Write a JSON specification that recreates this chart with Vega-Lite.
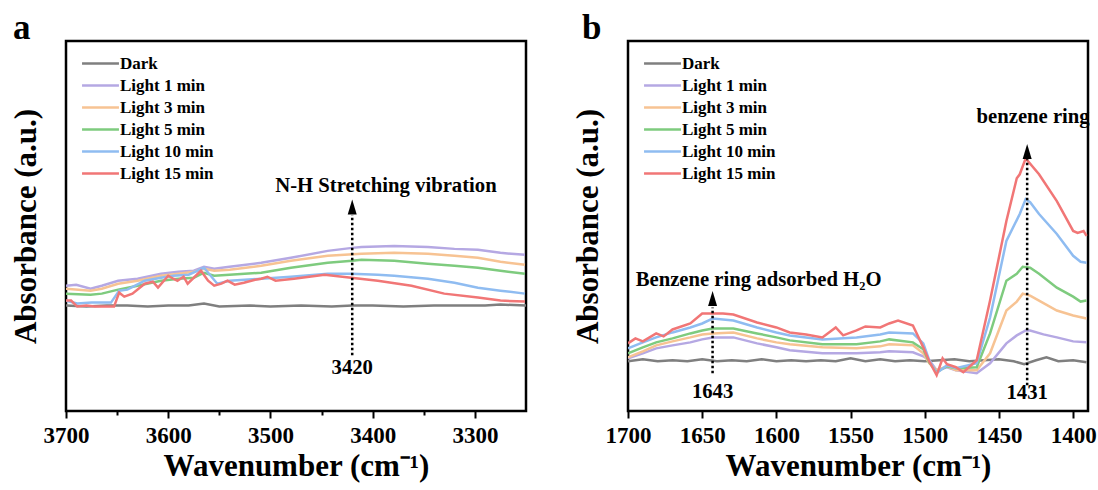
{
  "$schema": "https://vega.github.io/schema/vega-lite/v6.json",
  "padding": {"left": 8, "top": 9, "right": 5, "bottom": 3},
  "background": "white",
  "config": {
    "font": "Liberation Serif",
    "view": {"stroke": "black", "strokeWidth": 2.5},
    "axis": {"grid": false, "domain": false, "labelFont": "Liberation Serif", "titleFont": "Liberation Serif", "labelFontWeight": "bold", "titleFontWeight": "bold", "labelColor": "black", "titleColor": "black", "tickColor": "black"},
    "axisX": {"labelFontSize": 23, "titleFontSize": 31, "tickWidth": 2, "labelPadding": 6, "titlePadding": 4, "labelFlush": false, "labelOverlap": false},
    "axisY": {"labels": false, "ticks": false, "titleFontSize": 31, "titlePadding": 24},
    "legend": {"orient": "none", "legendX": 21, "legendY": 9, "padding": 0, "title": null, "labelFont": "Liberation Serif", "labelFontWeight": "bold", "labelFontSize": 17, "labelColor": "black", "symbolType": "M-1.55,0L1.55,0", "symbolSize": 567, "symbolStrokeWidth": 2.5, "rowPadding": 0, "labelOffset": 6},
    "title": {"font": "Liberation Serif", "fontWeight": "bold", "fontSize": 35, "color": "black", "anchor": "start", "frame": "bounds", "offset": -5}
  },
  "datasets": {
    "pa": [
      {"s": "Dark", "w": 3700, "a": 106}, {"s": "Dark", "w": 3680, "a": 105}, {"s": "Dark", "w": 3660, "a": 106}, {"s": "Dark", "w": 3640, "a": 106}, {"s": "Dark", "w": 3620, "a": 105}, {"s": "Dark", "w": 3600, "a": 106}, {"s": "Dark", "w": 3580, "a": 106}, {"s": "Dark", "w": 3565, "a": 108}, {"s": "Dark", "w": 3550, "a": 105}, {"s": "Dark", "w": 3520, "a": 106}, {"s": "Dark", "w": 3500, "a": 105}, {"s": "Dark", "w": 3470, "a": 106}, {"s": "Dark", "w": 3440, "a": 105}, {"s": "Dark", "w": 3420, "a": 106}, {"s": "Dark", "w": 3400, "a": 106}, {"s": "Dark", "w": 3370, "a": 105}, {"s": "Dark", "w": 3340, "a": 106}, {"s": "Dark", "w": 3310, "a": 106}, {"s": "Dark", "w": 3290, "a": 106}, {"s": "Dark", "w": 3275, "a": 107}, {"s": "Dark", "w": 3250, "a": 106},
      {"s": "Light 1 min", "w": 3700, "a": 126}, {"s": "Light 1 min", "w": 3690, "a": 127}, {"s": "Light 1 min", "w": 3676, "a": 123}, {"s": "Light 1 min", "w": 3665, "a": 126}, {"s": "Light 1 min", "w": 3649, "a": 131}, {"s": "Light 1 min", "w": 3630, "a": 133}, {"s": "Light 1 min", "w": 3607, "a": 138}, {"s": "Light 1 min", "w": 3590, "a": 140}, {"s": "Light 1 min", "w": 3575, "a": 141}, {"s": "Light 1 min", "w": 3565, "a": 145}, {"s": "Light 1 min", "w": 3555, "a": 143}, {"s": "Light 1 min", "w": 3540, "a": 145}, {"s": "Light 1 min", "w": 3509, "a": 149}, {"s": "Light 1 min", "w": 3480, "a": 154}, {"s": "Light 1 min", "w": 3444, "a": 161}, {"s": "Light 1 min", "w": 3420, "a": 164}, {"s": "Light 1 min", "w": 3411, "a": 165}, {"s": "Light 1 min", "w": 3379, "a": 166}, {"s": "Light 1 min", "w": 3346, "a": 165}, {"s": "Light 1 min", "w": 3320, "a": 163}, {"s": "Light 1 min", "w": 3297, "a": 162}, {"s": "Light 1 min", "w": 3275, "a": 159}, {"s": "Light 1 min", "w": 3251, "a": 157},
      {"s": "Light 3 min", "w": 3700, "a": 123}, {"s": "Light 3 min", "w": 3676, "a": 121}, {"s": "Light 3 min", "w": 3665, "a": 123}, {"s": "Light 3 min", "w": 3649, "a": 128}, {"s": "Light 3 min", "w": 3630, "a": 131}, {"s": "Light 3 min", "w": 3607, "a": 136}, {"s": "Light 3 min", "w": 3590, "a": 138}, {"s": "Light 3 min", "w": 3575, "a": 140}, {"s": "Light 3 min", "w": 3565, "a": 143}, {"s": "Light 3 min", "w": 3555, "a": 141}, {"s": "Light 3 min", "w": 3540, "a": 142}, {"s": "Light 3 min", "w": 3509, "a": 146}, {"s": "Light 3 min", "w": 3480, "a": 151}, {"s": "Light 3 min", "w": 3444, "a": 156}, {"s": "Light 3 min", "w": 3411, "a": 158}, {"s": "Light 3 min", "w": 3379, "a": 159}, {"s": "Light 3 min", "w": 3346, "a": 158}, {"s": "Light 3 min", "w": 3320, "a": 156}, {"s": "Light 3 min", "w": 3297, "a": 154}, {"s": "Light 3 min", "w": 3275, "a": 150}, {"s": "Light 3 min", "w": 3251, "a": 147},
      {"s": "Light 5 min", "w": 3700, "a": 118}, {"s": "Light 5 min", "w": 3676, "a": 117}, {"s": "Light 5 min", "w": 3665, "a": 118}, {"s": "Light 5 min", "w": 3649, "a": 122}, {"s": "Light 5 min", "w": 3630, "a": 126}, {"s": "Light 5 min", "w": 3607, "a": 131}, {"s": "Light 5 min", "w": 3590, "a": 133}, {"s": "Light 5 min", "w": 3575, "a": 134}, {"s": "Light 5 min", "w": 3565, "a": 139}, {"s": "Light 5 min", "w": 3555, "a": 136}, {"s": "Light 5 min", "w": 3540, "a": 137}, {"s": "Light 5 min", "w": 3509, "a": 139}, {"s": "Light 5 min", "w": 3480, "a": 144}, {"s": "Light 5 min", "w": 3444, "a": 149}, {"s": "Light 5 min", "w": 3420, "a": 151}, {"s": "Light 5 min", "w": 3411, "a": 152}, {"s": "Light 5 min", "w": 3379, "a": 151}, {"s": "Light 5 min", "w": 3346, "a": 148}, {"s": "Light 5 min", "w": 3320, "a": 146}, {"s": "Light 5 min", "w": 3297, "a": 144}, {"s": "Light 5 min", "w": 3275, "a": 141}, {"s": "Light 5 min", "w": 3251, "a": 138},
      {"s": "Light 10 min", "w": 3700, "a": 111}, {"s": "Light 10 min", "w": 3689, "a": 108}, {"s": "Light 10 min", "w": 3675, "a": 109}, {"s": "Light 10 min", "w": 3656, "a": 109}, {"s": "Light 10 min", "w": 3648, "a": 121}, {"s": "Light 10 min", "w": 3640, "a": 122}, {"s": "Light 10 min", "w": 3623, "a": 131}, {"s": "Light 10 min", "w": 3607, "a": 134}, {"s": "Light 10 min", "w": 3595, "a": 136}, {"s": "Light 10 min", "w": 3580, "a": 137}, {"s": "Light 10 min", "w": 3565, "a": 144}, {"s": "Light 10 min", "w": 3552, "a": 128}, {"s": "Light 10 min", "w": 3540, "a": 131}, {"s": "Light 10 min", "w": 3525, "a": 132}, {"s": "Light 10 min", "w": 3509, "a": 133}, {"s": "Light 10 min", "w": 3480, "a": 135}, {"s": "Light 10 min", "w": 3444, "a": 138}, {"s": "Light 10 min", "w": 3421, "a": 138}, {"s": "Light 10 min", "w": 3395, "a": 137}, {"s": "Light 10 min", "w": 3379, "a": 136}, {"s": "Light 10 min", "w": 3346, "a": 133}, {"s": "Light 10 min", "w": 3320, "a": 129}, {"s": "Light 10 min", "w": 3297, "a": 124}, {"s": "Light 10 min", "w": 3275, "a": 121}, {"s": "Light 10 min", "w": 3251, "a": 118},
      {"s": "Light 15 min", "w": 3700, "a": 111}, {"s": "Light 15 min", "w": 3695, "a": 111}, {"s": "Light 15 min", "w": 3689, "a": 105}, {"s": "Light 15 min", "w": 3680, "a": 106}, {"s": "Light 15 min", "w": 3672, "a": 105}, {"s": "Light 15 min", "w": 3660, "a": 105}, {"s": "Light 15 min", "w": 3653, "a": 105}, {"s": "Light 15 min", "w": 3648, "a": 119}, {"s": "Light 15 min", "w": 3643, "a": 115}, {"s": "Light 15 min", "w": 3635, "a": 118}, {"s": "Light 15 min", "w": 3623, "a": 128}, {"s": "Light 15 min", "w": 3615, "a": 130}, {"s": "Light 15 min", "w": 3610, "a": 124}, {"s": "Light 15 min", "w": 3600, "a": 136}, {"s": "Light 15 min", "w": 3595, "a": 133}, {"s": "Light 15 min", "w": 3591, "a": 131}, {"s": "Light 15 min", "w": 3585, "a": 135}, {"s": "Light 15 min", "w": 3581, "a": 128}, {"s": "Light 15 min", "w": 3568, "a": 141}, {"s": "Light 15 min", "w": 3561, "a": 131}, {"s": "Light 15 min", "w": 3555, "a": 126}, {"s": "Light 15 min", "w": 3548, "a": 128}, {"s": "Light 15 min", "w": 3542, "a": 131}, {"s": "Light 15 min", "w": 3535, "a": 127}, {"s": "Light 15 min", "w": 3526, "a": 129}, {"s": "Light 15 min", "w": 3515, "a": 132}, {"s": "Light 15 min", "w": 3509, "a": 133}, {"s": "Light 15 min", "w": 3503, "a": 135}, {"s": "Light 15 min", "w": 3495, "a": 131}, {"s": "Light 15 min", "w": 3477, "a": 133}, {"s": "Light 15 min", "w": 3447, "a": 137}, {"s": "Light 15 min", "w": 3421, "a": 134}, {"s": "Light 15 min", "w": 3395, "a": 131}, {"s": "Light 15 min", "w": 3362, "a": 126}, {"s": "Light 15 min", "w": 3330, "a": 118}, {"s": "Light 15 min", "w": 3297, "a": 114}, {"s": "Light 15 min", "w": 3275, "a": 111}, {"s": "Light 15 min", "w": 3251, "a": 110}
    ],
    "pb": [
      {"s": "Dark", "w": 1700, "a": 50}, {"s": "Dark", "w": 1690, "a": 52}, {"s": "Dark", "w": 1680, "a": 50}, {"s": "Dark", "w": 1670, "a": 51}, {"s": "Dark", "w": 1660, "a": 50}, {"s": "Dark", "w": 1650, "a": 52}, {"s": "Dark", "w": 1640, "a": 50}, {"s": "Dark", "w": 1630, "a": 51}, {"s": "Dark", "w": 1620, "a": 50}, {"s": "Dark", "w": 1610, "a": 52}, {"s": "Dark", "w": 1600, "a": 50}, {"s": "Dark", "w": 1590, "a": 51}, {"s": "Dark", "w": 1580, "a": 50}, {"s": "Dark", "w": 1570, "a": 51}, {"s": "Dark", "w": 1560, "a": 50}, {"s": "Dark", "w": 1550, "a": 53}, {"s": "Dark", "w": 1540, "a": 50}, {"s": "Dark", "w": 1530, "a": 52}, {"s": "Dark", "w": 1520, "a": 50}, {"s": "Dark", "w": 1510, "a": 51}, {"s": "Dark", "w": 1500, "a": 50}, {"s": "Dark", "w": 1490, "a": 51}, {"s": "Dark", "w": 1480, "a": 52}, {"s": "Dark", "w": 1470, "a": 50}, {"s": "Dark", "w": 1460, "a": 51}, {"s": "Dark", "w": 1450, "a": 52}, {"s": "Dark", "w": 1440, "a": 50}, {"s": "Dark", "w": 1433, "a": 47}, {"s": "Dark", "w": 1425, "a": 51}, {"s": "Dark", "w": 1418, "a": 54}, {"s": "Dark", "w": 1410, "a": 50}, {"s": "Dark", "w": 1400, "a": 51}, {"s": "Dark", "w": 1391, "a": 49},
      {"s": "Light 1 min", "w": 1700, "a": 53}, {"s": "Light 1 min", "w": 1690, "a": 58}, {"s": "Light 1 min", "w": 1681, "a": 63}, {"s": "Light 1 min", "w": 1670, "a": 66}, {"s": "Light 1 min", "w": 1658, "a": 69}, {"s": "Light 1 min", "w": 1650, "a": 72}, {"s": "Light 1 min", "w": 1643, "a": 74}, {"s": "Light 1 min", "w": 1629, "a": 74}, {"s": "Light 1 min", "w": 1613, "a": 68}, {"s": "Light 1 min", "w": 1600, "a": 64}, {"s": "Light 1 min", "w": 1591, "a": 61}, {"s": "Light 1 min", "w": 1569, "a": 58}, {"s": "Light 1 min", "w": 1546, "a": 58}, {"s": "Light 1 min", "w": 1530, "a": 59}, {"s": "Light 1 min", "w": 1524, "a": 60}, {"s": "Light 1 min", "w": 1508, "a": 59}, {"s": "Light 1 min", "w": 1501, "a": 55}, {"s": "Light 1 min", "w": 1497, "a": 51}, {"s": "Light 1 min", "w": 1492, "a": 41}, {"s": "Light 1 min", "w": 1485, "a": 44}, {"s": "Light 1 min", "w": 1479, "a": 41}, {"s": "Light 1 min", "w": 1465, "a": 38}, {"s": "Light 1 min", "w": 1456, "a": 48}, {"s": "Light 1 min", "w": 1445, "a": 68}, {"s": "Light 1 min", "w": 1438, "a": 76}, {"s": "Light 1 min", "w": 1432, "a": 81}, {"s": "Light 1 min", "w": 1429, "a": 81}, {"s": "Light 1 min", "w": 1420, "a": 77}, {"s": "Light 1 min", "w": 1411, "a": 74}, {"s": "Light 1 min", "w": 1400, "a": 70}, {"s": "Light 1 min", "w": 1391, "a": 69},
      {"s": "Light 3 min", "w": 1700, "a": 54}, {"s": "Light 3 min", "w": 1690, "a": 60}, {"s": "Light 3 min", "w": 1681, "a": 66}, {"s": "Light 3 min", "w": 1670, "a": 70}, {"s": "Light 3 min", "w": 1658, "a": 74}, {"s": "Light 3 min", "w": 1650, "a": 77}, {"s": "Light 3 min", "w": 1643, "a": 78}, {"s": "Light 3 min", "w": 1629, "a": 79}, {"s": "Light 3 min", "w": 1613, "a": 73}, {"s": "Light 3 min", "w": 1600, "a": 69}, {"s": "Light 3 min", "w": 1591, "a": 67}, {"s": "Light 3 min", "w": 1569, "a": 64}, {"s": "Light 3 min", "w": 1546, "a": 63}, {"s": "Light 3 min", "w": 1530, "a": 65}, {"s": "Light 3 min", "w": 1524, "a": 67}, {"s": "Light 3 min", "w": 1508, "a": 66}, {"s": "Light 3 min", "w": 1501, "a": 58}, {"s": "Light 3 min", "w": 1497, "a": 48}, {"s": "Light 3 min", "w": 1492, "a": 41}, {"s": "Light 3 min", "w": 1485, "a": 45}, {"s": "Light 3 min", "w": 1479, "a": 41}, {"s": "Light 3 min", "w": 1465, "a": 41}, {"s": "Light 3 min", "w": 1456, "a": 58}, {"s": "Light 3 min", "w": 1445, "a": 101}, {"s": "Light 3 min", "w": 1438, "a": 110}, {"s": "Light 3 min", "w": 1434, "a": 118}, {"s": "Light 3 min", "w": 1429, "a": 116}, {"s": "Light 3 min", "w": 1423, "a": 111}, {"s": "Light 3 min", "w": 1411, "a": 101}, {"s": "Light 3 min", "w": 1400, "a": 96}, {"s": "Light 3 min", "w": 1391, "a": 93},
      {"s": "Light 5 min", "w": 1700, "a": 58}, {"s": "Light 5 min", "w": 1690, "a": 64}, {"s": "Light 5 min", "w": 1681, "a": 69}, {"s": "Light 5 min", "w": 1670, "a": 73}, {"s": "Light 5 min", "w": 1658, "a": 78}, {"s": "Light 5 min", "w": 1650, "a": 81}, {"s": "Light 5 min", "w": 1643, "a": 83}, {"s": "Light 5 min", "w": 1629, "a": 83}, {"s": "Light 5 min", "w": 1613, "a": 78}, {"s": "Light 5 min", "w": 1600, "a": 74}, {"s": "Light 5 min", "w": 1591, "a": 71}, {"s": "Light 5 min", "w": 1569, "a": 67}, {"s": "Light 5 min", "w": 1546, "a": 67}, {"s": "Light 5 min", "w": 1530, "a": 70}, {"s": "Light 5 min", "w": 1524, "a": 72}, {"s": "Light 5 min", "w": 1508, "a": 69}, {"s": "Light 5 min", "w": 1501, "a": 62}, {"s": "Light 5 min", "w": 1497, "a": 49}, {"s": "Light 5 min", "w": 1492, "a": 39}, {"s": "Light 5 min", "w": 1485, "a": 45}, {"s": "Light 5 min", "w": 1479, "a": 43}, {"s": "Light 5 min", "w": 1465, "a": 44}, {"s": "Light 5 min", "w": 1456, "a": 78}, {"s": "Light 5 min", "w": 1445, "a": 131}, {"s": "Light 5 min", "w": 1438, "a": 138}, {"s": "Light 5 min", "w": 1434, "a": 145}, {"s": "Light 5 min", "w": 1429, "a": 144}, {"s": "Light 5 min", "w": 1423, "a": 138}, {"s": "Light 5 min", "w": 1411, "a": 124}, {"s": "Light 5 min", "w": 1400, "a": 115}, {"s": "Light 5 min", "w": 1395, "a": 110}, {"s": "Light 5 min", "w": 1391, "a": 111},
      {"s": "Light 10 min", "w": 1700, "a": 63}, {"s": "Light 10 min", "w": 1690, "a": 69}, {"s": "Light 10 min", "w": 1681, "a": 74}, {"s": "Light 10 min", "w": 1670, "a": 79}, {"s": "Light 10 min", "w": 1658, "a": 84}, {"s": "Light 10 min", "w": 1650, "a": 88}, {"s": "Light 10 min", "w": 1643, "a": 93}, {"s": "Light 10 min", "w": 1629, "a": 91}, {"s": "Light 10 min", "w": 1613, "a": 84}, {"s": "Light 10 min", "w": 1600, "a": 79}, {"s": "Light 10 min", "w": 1591, "a": 76}, {"s": "Light 10 min", "w": 1569, "a": 72}, {"s": "Light 10 min", "w": 1546, "a": 74}, {"s": "Light 10 min", "w": 1530, "a": 77}, {"s": "Light 10 min", "w": 1524, "a": 79}, {"s": "Light 10 min", "w": 1508, "a": 78}, {"s": "Light 10 min", "w": 1501, "a": 68}, {"s": "Light 10 min", "w": 1497, "a": 51}, {"s": "Light 10 min", "w": 1492, "a": 38}, {"s": "Light 10 min", "w": 1485, "a": 46}, {"s": "Light 10 min", "w": 1479, "a": 43}, {"s": "Light 10 min", "w": 1465, "a": 48}, {"s": "Light 10 min", "w": 1456, "a": 94}, {"s": "Light 10 min", "w": 1445, "a": 171}, {"s": "Light 10 min", "w": 1436, "a": 198}, {"s": "Light 10 min", "w": 1432, "a": 213}, {"s": "Light 10 min", "w": 1429, "a": 210}, {"s": "Light 10 min", "w": 1423, "a": 198}, {"s": "Light 10 min", "w": 1411, "a": 178}, {"s": "Light 10 min", "w": 1400, "a": 156}, {"s": "Light 10 min", "w": 1395, "a": 150}, {"s": "Light 10 min", "w": 1391, "a": 149},
      {"s": "Light 15 min", "w": 1700, "a": 68}, {"s": "Light 15 min", "w": 1695, "a": 73}, {"s": "Light 15 min", "w": 1690, "a": 70}, {"s": "Light 15 min", "w": 1681, "a": 78}, {"s": "Light 15 min", "w": 1676, "a": 75}, {"s": "Light 15 min", "w": 1670, "a": 82}, {"s": "Light 15 min", "w": 1658, "a": 88}, {"s": "Light 15 min", "w": 1650, "a": 98}, {"s": "Light 15 min", "w": 1643, "a": 98}, {"s": "Light 15 min", "w": 1636, "a": 98}, {"s": "Light 15 min", "w": 1629, "a": 97}, {"s": "Light 15 min", "w": 1613, "a": 89}, {"s": "Light 15 min", "w": 1600, "a": 84}, {"s": "Light 15 min", "w": 1591, "a": 79}, {"s": "Light 15 min", "w": 1580, "a": 77}, {"s": "Light 15 min", "w": 1569, "a": 74}, {"s": "Light 15 min", "w": 1560, "a": 84}, {"s": "Light 15 min", "w": 1555, "a": 76}, {"s": "Light 15 min", "w": 1546, "a": 81}, {"s": "Light 15 min", "w": 1540, "a": 85}, {"s": "Light 15 min", "w": 1530, "a": 84}, {"s": "Light 15 min", "w": 1524, "a": 88}, {"s": "Light 15 min", "w": 1518, "a": 91}, {"s": "Light 15 min", "w": 1508, "a": 86}, {"s": "Light 15 min", "w": 1501, "a": 64}, {"s": "Light 15 min", "w": 1497, "a": 50}, {"s": "Light 15 min", "w": 1492, "a": 36}, {"s": "Light 15 min", "w": 1488, "a": 53}, {"s": "Light 15 min", "w": 1485, "a": 47}, {"s": "Light 15 min", "w": 1479, "a": 44}, {"s": "Light 15 min", "w": 1474, "a": 39}, {"s": "Light 15 min", "w": 1465, "a": 51}, {"s": "Light 15 min", "w": 1456, "a": 111}, {"s": "Light 15 min", "w": 1445, "a": 191}, {"s": "Light 15 min", "w": 1438, "a": 234}, {"s": "Light 15 min", "w": 1436, "a": 238}, {"s": "Light 15 min", "w": 1432, "a": 254}, {"s": "Light 15 min", "w": 1423, "a": 238}, {"s": "Light 15 min", "w": 1411, "a": 211}, {"s": "Light 15 min", "w": 1400, "a": 181}, {"s": "Light 15 min", "w": 1397, "a": 179}, {"s": "Light 15 min", "w": 1393, "a": 181}, {"s": "Light 15 min", "w": 1391, "a": 176}
    ]
  },
  "hconcat": [
    {
      "width": 460, "height": 370,
      "title": {"text": "a", "dx": 3},
      "layer": [
        {
          "data": {"name": "pa"},
          "mark": {"type": "line", "strokeWidth": 2.5, "clip": true},
          "encoding": {
            "x": {"field": "w", "type": "quantitative", "title": "Wavenumber (cm⁻¹)", "scale": {"domain": [3250, 3700], "reverse": true, "nice": false, "zero": false},
                  "axis": {"values": [3700, 3650, 3600, 3550, 3500, 3450, 3400, 3350, 3300], "labelExpr": "datum.value % 100 == 0 ? datum.label : ''", "format": "d", "tickSize": {"condition": {"test": "datum.value % 100 == 0", "value": 7}, "value": 4}}},
            "y": {"field": "a", "type": "quantitative", "title": "Absorbance (a.u.)", "scale": {"domain": [0, 372], "nice": false, "zero": false}},
            "color": {"field": "s", "type": "nominal", "sort": null,
                      "scale": {"domain": ["Dark", "Light 1 min", "Light 3 min", "Light 5 min", "Light 10 min", "Light 15 min"], "range": ["#7f7f7f", "#b5a8e3", "#f7c393", "#7ecb7e", "#8fbcf1", "#f17676"]}}
          }
        },
        {
          "data": {"values": [{"w": 3420, "a": 56, "a2": 197}]},
          "mark": {"type": "rule", "strokeDash": [2.5, 2.5], "strokeWidth": 2.5, "color": "black"},
          "encoding": {"x": {"field": "w", "type": "quantitative", "title": "Wavenumber (cm⁻¹)"}, "y": {"field": "a", "type": "quantitative", "title": "Absorbance (a.u.)"}, "y2": {"field": "a2"}}
        },
        {
          "data": {"values": [{"w": 3420, "a": 205}]},
          "mark": {"type": "point", "shape": "M-0.6,1L0,-1L0.6,1Z", "filled": true, "color": "black", "opacity": 1, "size": 225, "strokeWidth": 0},
          "encoding": {"x": {"field": "w", "type": "quantitative", "title": "Wavenumber (cm⁻¹)"}, "y": {"field": "a", "type": "quantitative", "title": "Absorbance (a.u.)"}}
        },
        {
          "data": {"values": [{"w": 3387, "a": 226, "t": "N-H Stretching vibration"}, {"w": 3420, "a": 43, "t": "3420"}]},
          "mark": {"type": "text", "font": "Liberation Serif", "fontWeight": "bold", "fontSize": 20.7, "color": "black"},
          "encoding": {"x": {"field": "w", "type": "quantitative", "title": "Wavenumber (cm⁻¹)"}, "y": {"field": "a", "type": "quantitative", "title": "Absorbance (a.u.)"}, "text": {"field": "t"}}
        }
      ]
    },
    {
      "width": 460, "height": 370,
      "title": {"text": "b", "dx": 10},
      "layer": [
        {
          "data": {"name": "pb"},
          "mark": {"type": "line", "strokeWidth": 2.5, "clip": true},
          "encoding": {
            "x": {"field": "w", "type": "quantitative", "title": "Wavenumber (cm⁻¹)", "scale": {"domain": [1390, 1700], "reverse": true, "nice": false, "zero": false},
                  "axis": {"values": [1700, 1675, 1650, 1625, 1600, 1575, 1550, 1525, 1500, 1475, 1450, 1425, 1400], "labelExpr": "datum.value % 50 == 0 ? datum.label : ''", "format": "d", "tickSize": {"condition": {"test": "datum.value % 50 == 0", "value": 7}, "value": 4}}},
            "y": {"field": "a", "type": "quantitative", "title": "Absorbance (a.u.)", "scale": {"domain": [0, 372], "nice": false, "zero": false}},
            "color": {"field": "s", "type": "nominal", "sort": null,
                      "scale": {"domain": ["Dark", "Light 1 min", "Light 3 min", "Light 5 min", "Light 10 min", "Light 15 min"], "range": ["#7f7f7f", "#b5a8e3", "#f7c393", "#7ecb7e", "#8fbcf1", "#f17676"]}}
          }
        },
        {
          "data": {"values": [{"w": 1643, "a": 38, "a2": 104}, {"w": 1431, "a": 26, "a2": 253}]},
          "mark": {"type": "rule", "strokeDash": [2.5, 2.5], "strokeWidth": 2.5, "color": "black"},
          "encoding": {"x": {"field": "w", "type": "quantitative", "title": "Wavenumber (cm⁻¹)"}, "y": {"field": "a", "type": "quantitative", "title": "Absorbance (a.u.)"}, "y2": {"field": "a2"}}
        },
        {
          "data": {"values": [{"w": 1643, "a": 113}, {"w": 1431, "a": 261}]},
          "mark": {"type": "point", "shape": "M-0.6,1L0,-1L0.6,1Z", "filled": true, "color": "black", "opacity": 1, "size": 225, "strokeWidth": 0},
          "encoding": {"x": {"field": "w", "type": "quantitative", "title": "Wavenumber (cm⁻¹)"}, "y": {"field": "a", "type": "quantitative", "title": "Absorbance (a.u.)"}}
        },
        {
          "data": {"values": [{"w": 1612, "a": 132, "t": "Benzene ring adsorbed H₂O"}, {"w": 1427, "a": 296, "t": "benzene ring"}, {"w": 1643, "a": 19, "t": "1643"}, {"w": 1431, "a": 18, "t": "1431"}]},
          "mark": {"type": "text", "font": "Liberation Serif", "fontWeight": "bold", "fontSize": 20.7, "color": "black"},
          "encoding": {"x": {"field": "w", "type": "quantitative", "title": "Wavenumber (cm⁻¹)"}, "y": {"field": "a", "type": "quantitative", "title": "Absorbance (a.u.)"}, "text": {"field": "t"}}
        }
      ]
    }
  ],
  "spacing": 42,
  "resolve": {"legend": {"color": "independent"}}
}
